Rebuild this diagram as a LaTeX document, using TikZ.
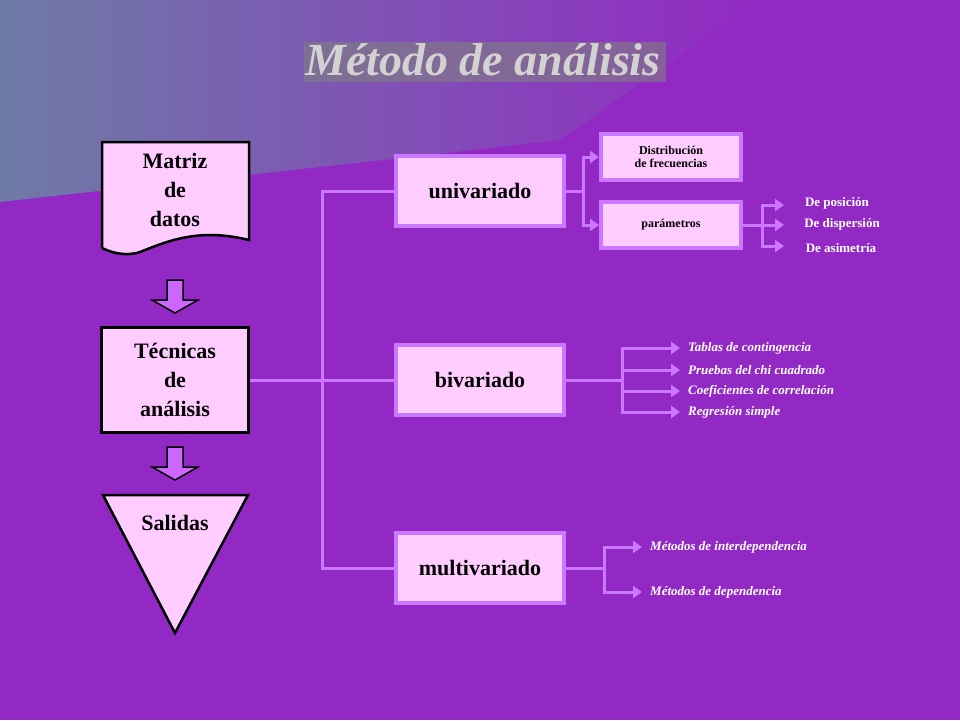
\documentclass[tikz,border=0pt]{standalone}
\usepackage{fontspec}
\setmainfont{Liberation Serif}
\usetikzlibrary{arrows.meta,positioning,shapes.geometric,shadows}
\definecolor{bgpurple}{HTML}{9229C4}
\definecolor{bggray}{HTML}{6E7BA6}
\definecolor{boxpink}{HTML}{FFCCFF}
\definecolor{linelila}{HTML}{CC77FF}
\definecolor{arrowlila}{HTML}{CC66FF}

\tikzset{
    flowbox/.style={draw=black, line width=2.5pt, fill=boxpink, minimum width=147pt,
        font=\bfseries\fontsize{22}{24}\selectfont, align=center},
    methodbox/.style={draw=linelila, line width=4pt, fill=boxpink, minimum width=168pt,
        minimum height=70pt, font=\bfseries\fontsize{22}{24}\selectfont},
    smallbox/.style={draw=linelila, line width=4pt, fill=boxpink, minimum width=140pt,
        minimum height=46pt, font=\bfseries\fontsize{12}{13}\selectfont, align=center},
    conn/.style={draw=linelila, line width=3pt},
    connarrow/.style={conn, -{Triangle[length=9pt,width=12pt]}},
    leaflabel/.style={text=white, font=\bfseries\fontsize{13}{14}\selectfont, inner sep=0pt},
    itemlabel/.style={text=white, font=\bfseries\itshape\fontsize{13}{14}\selectfont, anchor=west, inner sep=0pt},
    downarrow/.style={draw=black, line width=1.5pt, fill=arrowlila}
}

\begin{document}
\begin{tikzpicture}[x=1pt, y=-1pt]
    % background
    \fill[bgpurple] (0,0) rectangle (960,720);
    \shade[left color=bggray, right color=bgpurple]
        (0,0) -- (760,0) -- (560,140) .. controls (300,170) and (150,185) .. (0,202) -- cycle;
    \useasboundingbox (0,0) rectangle (960,720);

    % title
    \node (title) [text=gray!35, font=\bfseries\itshape\fontsize{46}{50}\selectfont,
        drop shadow={opacity=0.6, shadow xshift=2pt, shadow yshift=-2pt}] at (483,60) {Método de análisis};

    % left column
    \fill[boxpink] (102,142) -- (249,142) -- (249,240) .. controls (200,228) and (170,240) .. (140,252)
        .. controls (125,257) and (110,252) .. (102,248) -- cycle;
    \draw[line width=2.5pt] (102,248) -- (102,142) -- (249,142) -- (249,240) .. controls (200,228) and (170,240) .. (140,252)
        .. controls (125,257) and (110,252) .. (102,248);
    \node (matriz) [font=\bfseries\fontsize{22}{29}\selectfont, align=center] at (175,190) {Matriz\\de\\datos};
    \node (tecnicas) [flowbox, minimum height=105pt, font=\bfseries\fontsize{22}{29}\selectfont] at (175,380) {Técnicas\\de\\análisis};
    \draw[fill=boxpink, line width=2.5pt] (103,495) -- (248,495) -- (175,633) -- cycle;
    \node (salidas) [font=\bfseries\fontsize{22}{24}\selectfont] at (175,523) {Salidas};
    \foreach \y in {280,447} {
        \draw[downarrow] (167,\y) -- (183,\y) -- (183,\y+20) -- (198,\y+20) -- (175,\y+33)
            -- (152,\y+20) -- (167,\y+20) -- cycle;
    }

    % method boxes
    \node (uni) [methodbox] at (480,191) {univariado};
    \node (bi) [methodbox] at (480,380) {bivariado};
    \node (multi) [methodbox] at (480,568) {multivariado};
    \coordinate (split) at (322,380);
    \draw[conn] (tecnicas.east) -- (split);
    \draw[conn] (uni.west) -| (322,191) |- (multi.west);
    \draw[conn] (split) -- (bi.west);

    % univariado
    \node (distrib) [smallbox] at (671,157) {Distribución\\de frecuencias};
    \node (param) [smallbox] at (671,225) {parámetros};
    \draw[conn] (uni.east) -- (583,191);
    \draw[connarrow] (583,191) |- (distrib.west);
    \draw[connarrow] (583,191) |- (param.west);
    \node (pos) [leaflabel] at (837,203) {De posición};
    \node (disp) [leaflabel] at (842,224) {De dispersión};
    \node (asim) [leaflabel] at (841,248) {De asimetría};
    \draw[conn] (param.east) -- (762,225);
    \foreach \y in {205,225,246} {
        \draw[connarrow] (762,225) |- (784,\y);
    }

    % bivariado
    \node (tablas) [itemlabel] at (688,348) {Tablas de contingencia};
    \node (chi) [itemlabel] at (688,370) {Pruebas del chi cuadrado};
    \node (coef) [itemlabel] at (688,391) {Coeficientes de correlación};
    \node (regr) [itemlabel] at (688,412) {Regresión simple};
    \draw[conn] (bi.east) -- (622,380);
    \foreach \n in {tablas,chi,coef,regr} {
        \draw[connarrow] (622,380) |- ([xshift=-8pt]\n.west);
    }

    % multivariado
    \node (inter) [itemlabel] at (650,547) {Métodos de interdependencia};
    \node (dep) [itemlabel] at (650,592) {Métodos de dependencia};
    \draw[conn] (multi.east) -- (604,568);
    \draw[connarrow] (604,568) |- ([xshift=-8pt]inter.west);
    \draw[connarrow] (604,568) |- ([xshift=-8pt]dep.west);
\end{tikzpicture}
\end{document}
